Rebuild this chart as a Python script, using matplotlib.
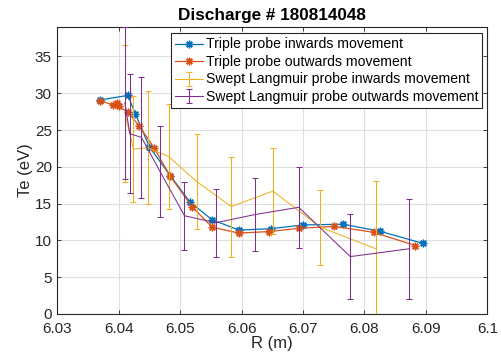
import matplotlib.pyplot as plt
import numpy as np

plt.rcParams['font.family'] = ['Liberation Sans', 'DejaVu Sans']

# Triple probe, inwards movement
r_tp_in = [6.0370, 6.0415, 6.0427, 6.0450, 6.0484, 6.0516, 6.0552, 6.0596, 6.0648, 6.0700, 6.0765, 6.0825, 6.0895]
te_tp_in = [29.1, 29.7, 27.2, 22.7, 18.8, 15.2, 12.8, 11.4, 11.6, 12.1, 12.2, 11.25, 9.6]

# Triple probe, outwards movement
r_tp_out = [6.0370, 6.0390, 6.0397, 6.0401, 6.0415, 6.0433, 6.0458, 6.0484, 6.0519, 6.0552, 6.0595, 6.0645, 6.0693, 6.0751, 6.0815, 6.0883]
te_tp_out = [29.0, 28.4, 28.7, 28.2, 27.4, 25.6, 22.5, 18.7, 14.6, 11.8, 11.0, 11.2, 11.65, 11.9, 11.1, 9.3]

# Swept Langmuir probe, inwards movement
r_sl_in = [6.0410, 6.0424, 6.0447, 6.0481, 6.0527, 6.0583, 6.0651, 6.0728, 6.0819]
te_sl_in = [27.3, 22.4, 22.6, 21.4, 18.0, 14.6, 16.7, 11.8, 8.85]
err_sl_in = [9.3, 7.2, 7.66, 7.2, 6.5, 6.8, 5.8, 5.1, 9.16]

# Swept Langmuir probe, outwards movement
r_sl_out = [6.0410, 6.0418, 6.0437, 6.0467, 6.0507, 6.0558, 6.0621, 6.0693, 6.0777, 6.0872]
te_sl_out = [28.7, 24.5, 24.0, 19.4, 13.35, 12.4, 13.5, 14.5, 7.8, 8.85]
err_sl_out = [10.3, 8.1, 8.2, 6.2, 4.65, 4.6, 5.0, 5.5, 5.8, 6.8]

c_blue = '#0072BD'
c_orange = '#D95319'
c_yellow = '#EDB120'
c_purple = '#7E2F8E'
asterisk = (8, 2, 0)

fig = plt.figure(figsize=(5.01, 3.6), dpi=100)
ax = fig.add_axes([0.1144, 0.1278, 0.8583, 0.7972])

ax.plot(r_tp_in, te_tp_in, color=c_blue, marker=asterisk, markersize=5.5, linewidth=0.9,
        label='Triple probe inwards movement', zorder=3)
ax.plot(r_tp_out, te_tp_out, color=c_orange, marker=asterisk, markersize=5.5, linewidth=0.9,
        label='Triple probe outwards movement', zorder=4)
ax.errorbar(r_sl_in, te_sl_in, yerr=err_sl_in, color=c_yellow, linewidth=0.75, elinewidth=0.75,
            capsize=2.5, capthick=0.75, label='Swept Langmuir probe inwards movement', zorder=5)
ax.errorbar(r_sl_out, te_sl_out, yerr=err_sl_out, color=c_purple, linewidth=0.75, elinewidth=0.75,
            capsize=2.5, capthick=0.75, label='Swept Langmuir probe outwards movement', zorder=6)

ax.set_xlim(6.03, 6.1)
ax.set_ylim(0, 39)
ax.set_xticks(np.arange(6.03, 6.1001, 0.01))
ax.set_xticklabels(['6.03', '6.04', '6.05', '6.06', '6.07', '6.08', '6.09', '6.1'])
ax.set_yticks(np.arange(0, 36, 5))

ax.grid(True, color='#dfdfdf', linewidth=0.8)
ax.set_axisbelow(True)
ax.tick_params(direction='in', top=True, right=True, labelsize=11, colors='#262626',
               length=3, width=0.6)
ax.tick_params(axis='x', pad=6)
ax.tick_params(axis='y', pad=4)
for s in ax.spines.values():
    s.set_color('#262626')
    s.set_linewidth(0.8)

ax.set_xlabel('R (m)', fontsize=12, color='#262626', labelpad=0)
ax.set_ylabel('Te (eV)', fontsize=12, color='#262626', labelpad=1)
ax.set_title('Discharge # 180814048', fontsize=12.3, fontweight='bold', pad=5)

leg = ax.legend(loc='upper right', bbox_to_anchor=(0.9985, 0.993), fontsize=10.1,
                handlelength=2.0, handletextpad=0.2, borderpad=0.3, labelspacing=0.25,
                borderaxespad=0.3, fancybox=False, framealpha=1, edgecolor='#262626')
leg.get_frame().set_linewidth(0.8)

fig.savefig('out.png', dpi=100)
